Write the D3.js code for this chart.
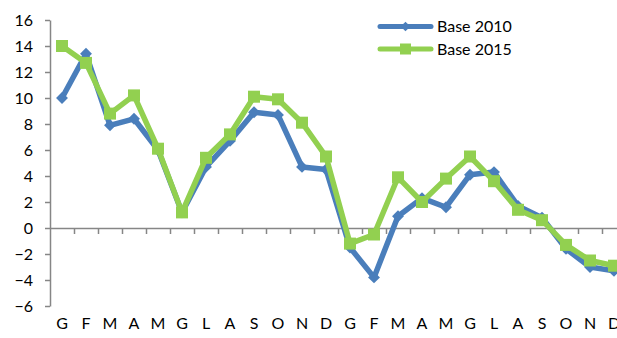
<!DOCTYPE html>
<html>
<head>
<meta charset="utf-8">
<script src="https://cdn.jsdelivr.net/npm/d3@7/dist/d3.min.js"></script>
<style>
  html, body { margin: 0; padding: 0; background: #fff; }
  svg { display: block; }
  text { font-family: "Lato", "Noto Sans", sans-serif; fill: #000; }
</style>
</head>
<body>
<svg id="chart" width="617" height="338"></svg>
<script>
const months = ["G","F","M","A","M","G","L","A","S","O","N","D","G","F","M","A","M","G","L","A","S","O","N","D"];
const base2010 = [10.0, 13.4, 7.9, 8.4, 6.0, 1.2, 4.7, 6.7, 8.9, 8.7, 4.7, 4.5, -1.5, -3.8, 0.9, 2.3, 1.6, 4.1, 4.3, 1.7, 0.8, -1.6, -3.0, -3.3];
const base2015 = [14.0, 12.7, 8.8, 10.2, 6.1, 1.2, 5.4, 7.2, 10.1, 9.9, 8.1, 5.5, -1.2, -0.5, 3.9, 2.0, 3.8, 5.5, 3.6, 1.4, 0.6, -1.3, -2.5, -2.9];
const yTicks = [-6, -4, -2, 0, 2, 4, 6, 8, 10, 12, 14, 16];
const seriesNames = ["Base 2010", "Base 2015"];

const svg = d3.select("#chart");
const idx = d3.range(months.length);

const x = d3.scaleBand().domain(idx).range([50, 626]).paddingInner(0).paddingOuter(0);
const xLin = d3.scaleLinear().domain([0, months.length]).range([50, 626]);
const y = d3.scaleLinear().domain([-6, 16]).range([306, 20]);

const axisColor = "#868686";

// Y axis
const yAxis = svg.append("g").attr("transform", "translate(50,0)")
  .call(d3.axisLeft(y).tickValues(yTicks).tickSize(5).tickPadding(12).tickSizeOuter(0));
yAxis.select(".domain").attr("stroke", axisColor).attr("stroke-width", 1.5);
yAxis.selectAll(".tick line").attr("stroke", axisColor).attr("stroke-width", 1.5);
yAxis.selectAll(".tick text").style("font-size", "16px").style("font-family", "Lato, 'Noto Sans', sans-serif").attr("fill", "#000");

// X axis at zero (ticks at category boundaries)
const xAxis = svg.append("g").attr("transform", `translate(0,${y(0)})`)
  .call(d3.axisBottom(xLin).tickValues(d3.range(1, months.length)).tickSize(6).tickSizeOuter(0).tickFormat(""));
xAxis.select(".domain").attr("stroke", axisColor).attr("stroke-width", 1.5);
xAxis.selectAll(".tick line").attr("stroke", axisColor).attr("stroke-width", 1.5);

// X labels at bottom
const xLab = svg.append("g").attr("transform", "translate(0,318)")
  .call(d3.axisBottom(x).tickSize(0).tickPadding(0).tickFormat(i => months[i]));
xLab.select(".domain").remove();
xLab.selectAll(".tick text").style("font-size", "16px").style("font-family", "Lato, 'Noto Sans', sans-serif").attr("fill", "#000");

const cx = i => x(i) + x.bandwidth() / 2;
const line = d3.line().x((d, i) => cx(i)).y(d => y(d));

const blue = "#4A7EBB";
const green = "#92D050";

// Base 2010
svg.append("path").datum(base2010).attr("d", line)
  .attr("fill", "none").attr("stroke", blue).attr("stroke-width", 5.5).attr("stroke-linejoin", "round");
const diamond = d3.symbol().type(d3.symbolDiamond2).size(90);
svg.append("g").selectAll("path").data(base2010).join("path")
  .attr("d", diamond)
  .attr("transform", (d, i) => `translate(${cx(i)},${y(d)}) rotate(0)`)
  .attr("fill", blue);

// Base 2015
svg.append("path").datum(base2015).attr("d", line)
  .attr("fill", "none").attr("stroke", green).attr("stroke-width", 5.5).attr("stroke-linejoin", "round");
const sq = 12;
svg.append("g").selectAll("rect").data(base2015).join("rect")
  .attr("x", (d, i) => cx(i) - sq / 2)
  .attr("y", d => y(d) - sq / 2)
  .attr("width", sq).attr("height", sq)
  .attr("fill", green);

// Legend
const legend = svg.append("g");
const legY = [26.5, 49];
const colors = [blue, green];
seriesNames.forEach((name, k) => {
  const g = legend.append("g").attr("transform", `translate(0,${legY[k]})`);
  g.append("line").attr("x1", 380).attr("x2", 431).attr("y1", 0).attr("y2", 0)
    .attr("stroke", colors[k]).attr("stroke-width", 5).attr("stroke-linecap", "round");
  if (k === 0) {
    g.append("path").attr("d", d3.symbol().type(d3.symbolDiamond2).size(60)).attr("transform", "translate(405.5,0)").attr("fill", blue);
  } else {
    g.append("rect").attr("x", 400).attr("y", -5.5).attr("width", 11).attr("height", 11).attr("fill", green);
  }
  g.append("text").attr("x", 437).attr("y", 0).attr("dy", "0.35em")
    .style("font-size", "16px").text(name);
});
</script>
</body>
</html>
